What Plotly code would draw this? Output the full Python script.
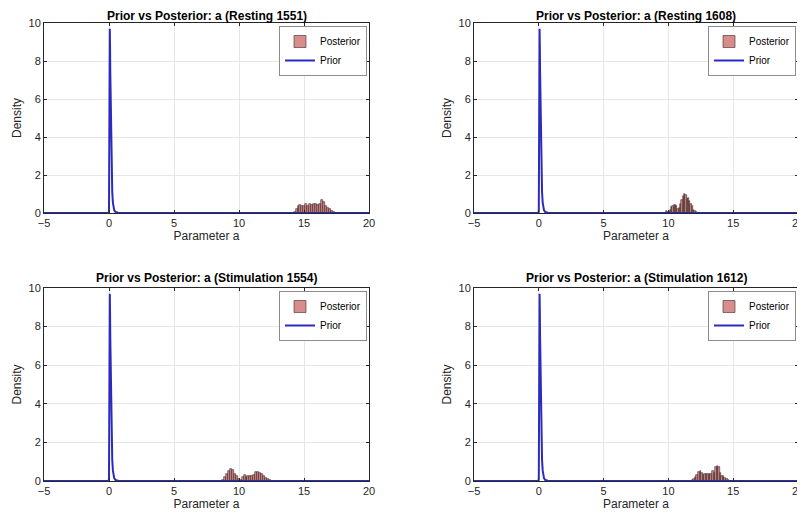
import plotly.graph_objects as go

titles = ["Prior vs Posterior: a (Resting 1551)", "Prior vs Posterior: a (Resting 1608)",
          "Prior vs Posterior: a (Stimulation 1554)", "Prior vs Posterior: a (Stimulation 1612)"]

# Prior density curve
prior_x = [-5, -0.01, 0.0, 0.02, 0.04, 0.06, 0.08, 0.1, 0.13, 0.16, 0.2, 0.25, 0.3, 0.4, 0.5, 0.7, 20]
prior_y = [0, 0, 0.2, 6.0, 9.4, 9.7, 8.8, 7.4, 5.4, 3.8, 2.2, 1.1, 0.55, 0.15, 0.05, 0.01, 0]

# Posterior histograms (bin centers, densities, bin width)
p1_centers = [14.275, 14.425, 14.575, 14.725, 14.875, 15.025, 15.175, 15.325, 15.475, 15.625, 15.775,
              15.925, 16.075, 16.225, 16.375, 16.525, 16.675, 16.825, 16.975, 17.125, 17.275]
p1_heights = [0.05, 0.2, 0.35, 0.4, 0.38, 0.37, 0.48, 0.38, 0.45, 0.42, 0.5,
              0.45, 0.4, 0.5, 0.68, 0.6, 0.35, 0.25, 0.22, 0.1, 0.05]
p1_width = 0.15

p2_centers = [9.85, 9.95, 10.05, 10.15, 10.25, 10.35, 10.45, 10.55, 10.65, 10.75, 10.85, 10.95, 11.05,
              11.15, 11.25, 11.35, 11.45, 11.55, 11.65, 11.75, 11.85, 11.95, 12.05, 12.15, 12.25]
p2_heights = [0.1, 0.05, 0.05, 0.15, 0.3, 0.35, 0.4, 0.42, 0.35, 0.2, 0.25, 0.45, 0.7,
              0.9, 1.02, 0.95, 0.75, 0.8, 0.65, 0.5, 0.35, 0.15, 0.08, 0.03, 0.02]
p2_width = 0.1

p3_centers = [8.775, 8.925, 9.075, 9.225, 9.375, 9.525, 9.675, 9.825, 9.975, 10.125, 10.275, 10.425, 10.575,
              10.725, 10.875, 11.025, 11.175, 11.325, 11.475, 11.625, 11.775, 11.925, 12.075, 12.225, 12.375, 12.525]
p3_heights = [0.05, 0.2, 0.35, 0.5, 0.62, 0.55, 0.35, 0.25, 0.1, 0.05, 0.2, 0.3, 0.22,
              0.25, 0.25, 0.25, 0.3, 0.47, 0.45, 0.42, 0.35, 0.25, 0.15, 0.1, 0.05, 0.02]
p3_width = 0.15

p4_centers = [11.86, 11.98, 12.10, 12.22, 12.34, 12.46, 12.58, 12.70, 12.82, 12.94, 13.06, 13.18, 13.30,
              13.42, 13.54, 13.66, 13.78, 13.90, 14.02, 14.14, 14.26, 14.38, 14.50, 14.62, 14.74]
p4_heights = [0.05, 0.12, 0.2, 0.3, 0.45, 0.5, 0.4, 0.3, 0.38, 0.35, 0.35, 0.36, 0.35,
              0.5, 0.4, 0.7, 0.78, 0.75, 0.4, 0.25, 0.25, 0.15, 0.08, 0.03, 0.02]
p4_width = 0.12

x_ticks = [-5, 0, 5, 10, 15, 20]
y_ticks = [0, 2, 4, 6, 8, 10]

hists = [(p1_centers, p1_heights, p1_width), (p2_centers, p2_heights, p2_width),
         (p3_centers, p3_heights, p3_width), (p4_centers, p4_heights, p4_width)]

OFF = 8  # page body margin
W, H = 805 - OFF, 521 - 2 * OFF
# panel pixel boxes in the screenshot: (left, right, top, bottom)
boxes = [(44, 369, 23, 213), (474, 798, 23, 213), (44, 369, 288, 481), (474, 798, 288, 481)]

fig = go.Figure()
font = "Liberation Sans, Arial, sans-serif"
axcol = "#262626"

for i, (box, (c, h, w)) in enumerate(zip(boxes, hists)):
    n = "" if i == 0 else str(i + 1)
    leg = "legend" if i == 0 else f"legend{i+1}"
    fig.add_trace(go.Bar(x=c, y=h, width=w, name="Posterior",
                         marker=dict(color="rgba(204,102,102,0.75)", line=dict(color="#3a2a2a", width=0.6)),
                         xaxis="x" + n, yaxis="y" + n, legend=leg))
    fig.add_trace(go.Scatter(x=prior_x, y=prior_y, mode="lines", name="Prior",
                             line=dict(color="#2b2bbf", width=2),
                             xaxis="x" + n, yaxis="y" + n, legend=leg))
    l, r, t, b = [v - OFF for v in box]
    xd = [l / W, r / W]
    yd = [1 - b / H, 1 - t / H]
    common = dict(showline=True, linecolor=axcol, linewidth=1, mirror="ticks", ticks="inside",
                  ticklen=3, tickcolor=axcol, showgrid=True, gridcolor="#e6e6e6", zeroline=False,
                  automargin=False,
                  tickfont=dict(size=11, color=axcol, family=font))
    fig.layout["xaxis" + n] = dict(domain=xd, range=[-5, 20], tickvals=x_ticks, anchor="y" + n,
                                   title=dict(text="Parameter a", font=dict(size=12, color=axcol, family=font), standoff=2),
                                   **common)
    fig.layout["yaxis" + n] = dict(domain=yd, range=[0, 10], tickvals=y_ticks, anchor="x" + n,
                                   title=dict(text="Density", font=dict(size=12, color=axcol, family=font), standoff=4),
                                   **common)
    fig.layout[leg] = dict(x=(r - 2) / W, y=1 - (t + 3) / H, xanchor="right", yanchor="top",
                           bgcolor="white", bordercolor="#8c8c8c", borderwidth=1,
                           font=dict(size=10, color="black", family=font),
                           tracegroupgap=0, itemwidth=30)
    if i < 2:
        ty, yanc = 1.0, "top"
    else:
        ty, yanc = 1 - (t - 10) / H, "middle"
    fig.add_annotation(text="<b>" + titles[i] + "</b>", x=(l + r) / 2 / W, y=ty,
                       xref="paper", yref="paper", showarrow=False, xanchor="center", yanchor=yanc,
                       borderpad=0, font=dict(size=12, color="black", family=font))

fig.update_layout(width=W, height=H, margin=dict(l=0, r=0, t=0, b=0, autoexpand=False), autosize=False,
                  plot_bgcolor="white", paper_bgcolor="white", showlegend=True, bargap=0)
fig.write_html("out.html")
